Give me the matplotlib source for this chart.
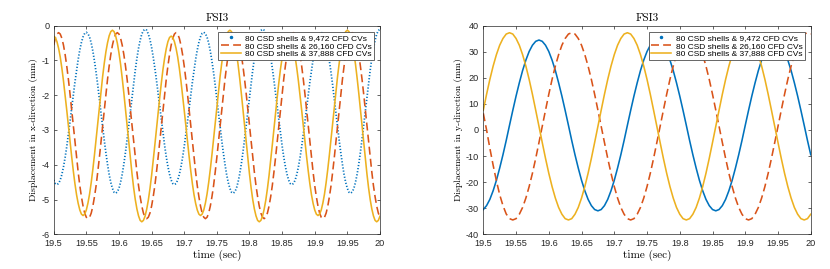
import numpy as np
import matplotlib
matplotlib.use('Agg')
import matplotlib.pyplot as plt
from matplotlib.lines import Line2D
from matplotlib.ticker import FormatStrFormatter

plt.rcParams['font.family'] = ['Liberation Sans', 'DejaVu Sans']
plt.rcParams['axes.unicode_minus'] = False

# sampling times (s): x-displacement read every 0.0025 s, y-displacement every 0.005 s
t_x = np.linspace(19.5, 20.0, 201)
t_y = np.linspace(19.5, 20.0, 101)

labels = ['80 CSD shells & 9,472 CFD CVs',
          '80 CSD shells & 26,160 CFD CVs',
          '80 CSD shells & 37,888 CFD CVs']
colors = ['#0072BD', '#D95319', '#EDB120']

# displacement in x-direction (mm)
disp_x_9472 = [
    -4.44, -4.54, -4.57,
    -4.54, -4.44, -4.28, -4.06, -3.79, -3.48, -3.13, -2.76, -2.38, -2.00, -1.63, -1.29, -0.97, -0.70, -0.48, -0.32, -0.22, -0.19,
    -0.23, -0.33, -0.50, -0.73, -1.02, -1.35, -1.71, -2.10, -2.51, -2.91, -3.30, -3.66, -3.99, -4.28, -4.51, -4.68, -4.79, -4.82,
    -4.78, -4.68, -4.50, -4.27, -3.98, -3.64, -3.27, -2.87, -2.46, -2.05, -1.65, -1.28, -0.94, -0.65, -0.42, -0.24, -0.14, -0.10,
    -0.13, -0.24, -0.40, -0.62, -0.90, -1.22, -1.57, -1.95, -2.34, -2.72, -3.10, -3.45, -3.77, -4.05, -4.27, -4.44, -4.54, -4.57,
    -4.54, -4.44, -4.28, -4.06, -3.79, -3.48, -3.13, -2.76, -2.38, -2.00, -1.63, -1.29, -0.97, -0.70, -0.48, -0.32, -0.22, -0.19,
    -0.23, -0.33, -0.50, -0.73, -1.02, -1.35, -1.71, -2.10, -2.51, -2.91, -3.30, -3.66, -3.99, -4.28, -4.51, -4.68, -4.79, -4.82,
    -4.78, -4.68, -4.50, -4.27, -3.98, -3.64, -3.27, -2.87, -2.46, -2.05, -1.65, -1.28, -0.94, -0.65, -0.42, -0.24, -0.14, -0.10,
    -0.13, -0.24, -0.40, -0.62, -0.90, -1.22, -1.57, -1.95, -2.34, -2.72, -3.10, -3.45, -3.77, -4.05, -4.27, -4.44, -4.54, -4.57,
    -4.54, -4.44, -4.28, -4.06, -3.79, -3.48, -3.13, -2.76, -2.38, -2.00, -1.63, -1.29, -0.97, -0.70, -0.48, -0.32, -0.22, -0.19,
    -0.23, -0.33, -0.50, -0.73, -1.02, -1.35, -1.71, -2.10, -2.51, -2.91, -3.30, -3.66, -3.99, -4.28, -4.51, -4.68, -4.79, -4.82,
    -4.78, -4.68, -4.50, -4.27, -3.98, -3.64, -3.27, -2.87, -2.46, -2.05, -1.65, -1.28, -0.94, -0.65, -0.42, -0.24, -0.14, -0.10,
]
disp_x_26160 = [
    -0.56, -0.36, -0.24, -0.20,
    -0.24, -0.36, -0.56, -0.83, -1.16, -1.54, -1.96, -2.41, -2.88, -3.34, -3.79, -4.21, -4.60, -4.92, -5.19, -5.39, -5.51, -5.55,
    -5.51, -5.39, -5.19, -4.92, -4.60, -4.21, -3.79, -3.34, -2.88, -2.41, -1.96, -1.54, -1.16, -0.83, -0.56, -0.36, -0.24, -0.20,
    -0.24, -0.36, -0.56, -0.83, -1.16, -1.54, -1.96, -2.41, -2.88, -3.34, -3.79, -4.21, -4.60, -4.92, -5.19, -5.39, -5.51, -5.55,
    -5.51, -5.39, -5.19, -4.92, -4.60, -4.21, -3.79, -3.34, -2.88, -2.41, -1.96, -1.54, -1.16, -0.83, -0.56, -0.36, -0.24, -0.20,
    -0.24, -0.36, -0.56, -0.83, -1.16, -1.54, -1.96, -2.41, -2.88, -3.34, -3.79, -4.21, -4.60, -4.92, -5.19, -5.39, -5.51, -5.55,
    -5.51, -5.39, -5.19, -4.92, -4.60, -4.21, -3.79, -3.34, -2.88, -2.41, -1.96, -1.54, -1.16, -0.83, -0.56, -0.36, -0.24, -0.20,
    -0.24, -0.36, -0.56, -0.83, -1.16, -1.54, -1.96, -2.41, -2.88, -3.34, -3.79, -4.21, -4.60, -4.92, -5.19, -5.39, -5.51, -5.55,
    -5.51, -5.39, -5.19, -4.92, -4.60, -4.21, -3.79, -3.34, -2.88, -2.41, -1.96, -1.54, -1.16, -0.83, -0.56, -0.36, -0.24, -0.20,
    -0.24, -0.36, -0.56, -0.83, -1.16, -1.54, -1.96, -2.41, -2.88, -3.34, -3.79, -4.21, -4.60, -4.92, -5.19, -5.39, -5.51, -5.55,
    -5.51, -5.39, -5.19, -4.92, -4.60, -4.21, -3.79, -3.34, -2.88, -2.41, -1.96, -1.54, -1.16, -0.83, -0.56, -0.36, -0.24, -0.20,
    -0.24, -0.36, -0.56, -0.83, -1.16, -1.54, -1.96, -2.41, -2.88, -3.34, -3.79, -4.21, -4.60, -4.92, -5.19, -5.39, -5.51,
]
disp_x_37888 = [
    -0.30, -0.34, -0.46, -0.65, -0.90, -1.22, -1.59, -2.00, -2.43, -2.88, -3.33, -3.76, -4.17, -4.54, -4.86, -5.11, -5.30, -5.42, -5.46,
    -5.42, -5.30, -5.10, -4.84, -4.51, -4.13, -3.71, -3.26, -2.80, -2.33, -1.88, -1.46, -1.08, -0.75, -0.49, -0.29, -0.17, -0.13,
    -0.17, -0.30, -0.50, -0.78, -1.11, -1.51, -1.94, -2.41, -2.89, -3.36, -3.83, -4.26, -4.66, -5.00, -5.27, -5.47, -5.60, -5.64,
    -5.60, -5.48, -5.28, -5.02, -4.69, -4.31, -3.88, -3.43, -2.97, -2.51, -2.06, -1.64, -1.25, -0.93, -0.66, -0.46, -0.34, -0.30,
    -0.34, -0.46, -0.65, -0.90, -1.22, -1.59, -2.00, -2.43, -2.88, -3.33, -3.76, -4.17, -4.54, -4.86, -5.11, -5.30, -5.42, -5.46,
    -5.42, -5.30, -5.10, -4.84, -4.51, -4.13, -3.71, -3.26, -2.80, -2.33, -1.88, -1.46, -1.08, -0.75, -0.49, -0.29, -0.17, -0.13,
    -0.17, -0.30, -0.50, -0.78, -1.11, -1.51, -1.94, -2.41, -2.89, -3.36, -3.83, -4.26, -4.66, -5.00, -5.27, -5.47, -5.60, -5.64,
    -5.60, -5.48, -5.28, -5.02, -4.69, -4.31, -3.88, -3.43, -2.97, -2.51, -2.06, -1.64, -1.25, -0.93, -0.66, -0.46, -0.34, -0.30,
    -0.34, -0.46, -0.65, -0.90, -1.22, -1.59, -2.00, -2.43, -2.88, -3.33, -3.76, -4.17, -4.54, -4.86, -5.11, -5.30, -5.42, -5.46,
    -5.42, -5.30, -5.10, -4.84, -4.51, -4.13, -3.71, -3.26, -2.80, -2.33, -1.88, -1.46, -1.08, -0.75, -0.49, -0.29, -0.17, -0.13,
    -0.17, -0.30, -0.50, -0.78, -1.11, -1.51, -1.94, -2.41, -2.89, -3.36, -3.83, -4.26, -4.66, -5.00, -5.27, -5.47, -5.60, -5.64,
    -5.60, -5.48,
]

# displacement in y-direction (mm)
disp_y_9472 = [
    -30.5,
    -29.0, -26.6, -23.3, -19.3, -14.6, -9.5, -4.0, 1.8, 7.5, 13.0, 18.1, 22.8, 26.8, 30.1, 32.5, 34.0, 34.5,
    34.0, 32.5, 30.1, 26.8, 22.8, 18.1, 13.0, 7.5, 1.8, -4.0, -9.5, -14.6, -19.3, -23.3, -26.6, -29.0, -30.5, -31.0,
    -30.5, -29.0, -26.6, -23.3, -19.3, -14.6, -9.5, -4.0, 1.8, 7.5, 13.0, 18.1, 22.8, 26.8, 30.1, 32.5, 34.0, 34.5,
    34.0, 32.5, 30.1, 26.8, 22.8, 18.1, 13.0, 7.5, 1.8, -4.0, -9.5, -14.6, -19.3, -23.3, -26.6, -29.0, -30.5, -31.0,
    -30.5, -29.0, -26.6, -23.3, -19.3, -14.6, -9.5, -4.0, 1.8, 7.5, 13.0, 18.1, 22.8, 26.8, 30.1, 32.5, 34.0, 34.5,
    34.0, 32.5, 30.1, 26.8, 22.8, 18.1, 13.0, 7.5, 1.8, -4.0, -9.5,
]
disp_y_26160 = [
    6.4, 0.0, -7.0, -13.5, -19.5, -24.8, -29.0, -32.2, -34.0, -34.5,
    -34.0, -32.3, -29.7, -26.1, -21.7, -16.6, -10.9, -4.8, 1.4, 7.6, 13.7, 19.4, 24.5, 28.9, 32.5, 35.1, 36.8, 37.3,
    36.8, 35.1, 32.5, 28.9, 24.5, 19.4, 13.7, 7.6, 1.4, -4.8, -10.9, -16.6, -21.7, -26.1, -29.7, -32.3, -34.0, -34.5,
    -34.0, -32.3, -29.7, -26.1, -21.7, -16.6, -10.9, -4.8, 1.4, 7.6, 13.7, 19.4, 24.5, 28.9, 32.5, 35.1, 36.8, 37.3,
    36.8, 35.1, 32.5, 28.9, 24.5, 19.4, 13.7, 7.6, 1.4, -4.8, -10.9, -16.6, -21.7, -26.1, -29.7, -32.3, -34.0, -34.5,
    -34.0, -32.3, -29.7, -26.1, -21.7, -16.6, -10.9, -4.8, 1.4, 7.6, 13.7, 19.4, 24.5, 28.9, 32.5, 35.1, 36.8, 37.3,
    36.8,
]
disp_y_37888 = [
    7.6, 13.7, 19.4, 24.5, 28.9, 32.5, 35.1, 36.8, 37.3,
    36.8, 35.1, 32.5, 28.9, 24.5, 19.4, 13.7, 7.6, 1.4, -4.8, -10.9, -16.6, -21.7, -26.1, -29.7, -32.3, -34.0, -34.5,
    -34.0, -32.3, -29.7, -26.1, -21.7, -16.6, -10.9, -4.8, 1.4, 7.6, 13.7, 19.4, 24.5, 28.9, 32.5, 35.1, 36.8, 37.3,
    36.8, 35.1, 32.5, 28.9, 24.5, 19.4, 13.7, 7.6, 1.4, -4.8, -10.9, -16.6, -21.7, -26.1, -29.7, -32.3, -34.0, -34.5,
    -34.0, -32.3, -29.7, -26.1, -21.7, -16.6, -10.9, -4.8, 1.4, 7.6, 13.7, 19.4, 24.5, 28.9, 32.5, 35.1, 36.8, 37.3,
    36.8, 35.1, 32.5, 28.9, 24.5, 19.4, 13.7, 7.6, 1.4, -4.8, -10.9, -16.6, -21.7, -26.1, -29.7, -32.3, -34.0, -34.5,
    -34.0, -32.3,
]

x_ticks = [19.5, 19.55, 19.6, 19.65, 19.7, 19.75, 19.8, 19.85, 19.9, 19.95, 20.0]
yticks_x = [-6, -5, -4, -3, -2, -1, 0]
yticks_y = [-40, -30, -20, -10, 0, 10, 20, 30, 40]

serif = 'cmr10'
dark = '0.15'


def draw(ax, t, series, blue_style, blue_lw, ylabel, ylim, yticks):
    ax.plot(t, series[0], color=colors[0], lw=blue_lw, ls=blue_style)
    ax.plot(t, series[1], color=colors[1], lw=1.15, ls='--', dashes=(5, 2.6))
    ax.plot(t, series[2], color=colors[2], lw=1.15, ls='-')
    ax.set_xlim(19.5, 20.0)
    ax.set_ylim(*ylim)
    ax.set_xticks(x_ticks)
    ax.set_yticks(yticks)
    ax.xaxis.set_major_formatter(FormatStrFormatter('%g'))
    ax.tick_params(direction='in', length=2.5, width=0.5, top=True, right=True,
                   labelsize=6.6, colors=dark, labelcolor='0.15')
    ax.tick_params(axis='x', pad=3.4)
    ax.tick_params(axis='y', pad=3.2)
    for s in ax.spines.values():
        s.set_color(dark)
        s.set_linewidth(0.5)
    ax.set_title('FSI3', fontfamily=serif, fontsize=8.2, pad=3.5)
    ax.set_xlabel('time (sec)', fontfamily=serif, fontsize=8.0, labelpad=1.5)
    ax.set_ylabel(ylabel, fontfamily=serif, fontsize=7.0, labelpad=2)

    handles = [Line2D([], [], color=colors[0], marker='.', ls='none', markersize=3),
               Line2D([], [], color=colors[1], lw=1.15, ls='--', dashes=(5, 2.6)),
               Line2D([], [], color=colors[2], lw=1.15)]
    leg = ax.legend(handles, labels, loc='upper right', fontsize=6.0, numpoints=1,
                    labelspacing=0.0, borderpad=0.3, handlelength=2.4,
                    handletextpad=0.5, borderaxespad=0.7, fancybox=False,
                    framealpha=1.0)
    leg.get_frame().set_edgecolor('0.3')
    leg.get_frame().set_linewidth(0.6)


fig = plt.figure(figsize=(8.3, 2.69), dpi=100)
ax1 = fig.add_axes([0.0647, 0.129, 0.3931, 0.7755])
ax2 = fig.add_axes([0.5823, 0.129, 0.3945, 0.7755])

draw(ax1, t_x, [disp_x_9472, disp_x_26160, disp_x_37888], (0, (0.7, 1.1)), 1.25,
     'Displacement in x-direction (mm)', (-6, 0), yticks_x)
draw(ax2, t_y, [disp_y_9472, disp_y_26160, disp_y_37888], '-', 1.15,
     'Displacement in y-direction (mm)', (-40, 40), yticks_y)

fig.savefig('out.png', dpi=100)
